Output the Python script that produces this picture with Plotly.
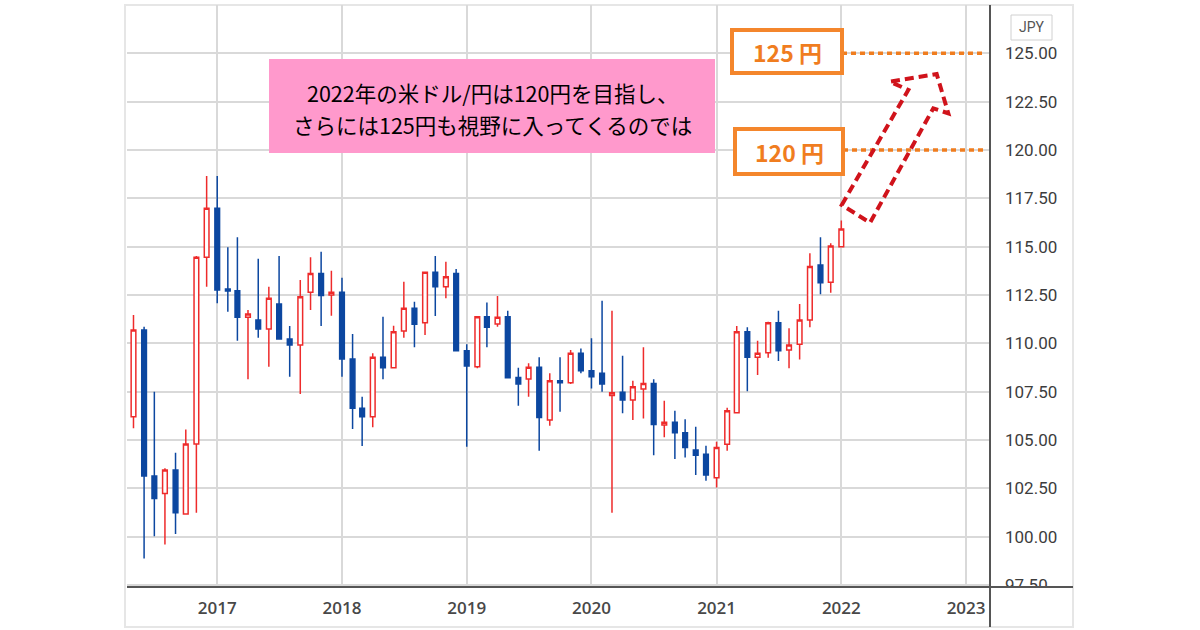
import pandas as pd
import plotly.graph_objects as go

# USD/JPY monthly candles, Apr 2016 - Jan 2022
months = pd.date_range("2016-04-01", "2022-01-01", freq="MS")

opens = [112.40, 106.21, 110.69, 103.14, 102.24, 103.45, 101.17, 104.79, 114.45, 116.99,
         112.81, 112.72, 111.35, 111.21, 110.74, 112.04, 110.22, 109.91, 112.64, 113.62, 112.50,
         112.64, 109.19, 106.64, 106.21, 109.28, 108.74, 110.64, 111.81, 111.07, 113.68, 112.93, 113.62,
         109.62, 108.79, 111.38, 111.00, 111.38, 108.24, 108.16, 108.76, 106.04, 108.07, 107.96, 109.49,
         108.59, 108.45, 107.31, 107.47, 107.07, 107.64, 107.93, 105.78, 105.92, 105.38, 104.48, 104.26,
         103.05, 104.78, 106.41, 110.60, 109.28, 109.52, 111.07, 109.66, 109.95, 111.21, 114.05, 113.16,
         115.00]
highs = [112.59, 111.47, 110.86, 107.50, 103.54, 104.34, 105.55, 114.52, 118.66, 118.66,
         114.97, 115.49, 111.73, 114.38, 112.93, 114.52, 110.90, 113.28, 114.45, 114.74, 113.76,
         113.40, 110.48, 107.24, 109.49, 111.38, 110.91, 113.19, 112.15, 113.68, 114.52, 114.22, 113.85,
         109.95, 111.41, 112.12, 112.45, 111.69, 108.74, 108.97, 109.28, 108.45, 109.28, 109.66, 109.74,
         110.26, 112.21, 111.69, 109.36, 108.07, 109.80, 108.14, 107.03, 106.52, 106.07, 105.69, 104.70,
         104.91, 106.67, 110.90, 110.83, 110.14, 111.12, 111.69, 110.78, 112.04, 114.66, 115.49, 115.18,
         116.35]
lows = [106.24, 105.61, 98.88, 100.03, 99.60, 100.14, 101.17, 101.24, 112.93, 112.07,
        111.64, 110.14, 108.14, 110.29, 108.79, 110.22, 108.27, 107.38, 111.73, 110.90, 111.43,
        108.27, 105.57, 104.69, 105.66, 108.14, 108.74, 110.29, 109.80, 110.43, 111.41, 112.33, 109.62,
        104.65, 108.71, 109.80, 110.86, 108.22, 106.77, 107.24, 104.45, 105.74, 106.46, 107.90, 108.45,
        107.67, 107.50, 101.24, 106.38, 106.04, 106.12, 104.22, 105.14, 104.02, 104.10, 103.19, 102.89,
        102.55, 104.45, 106.41, 107.53, 108.36, 109.26, 109.09, 108.71, 109.17, 110.83, 112.54, 112.62,
        115.00]
closes = [106.30, 110.69, 103.14, 101.98, 103.45, 101.24, 104.79, 114.45, 116.99, 112.76,
          112.71, 111.35, 111.52, 110.74, 112.33, 110.22, 109.91, 112.41, 113.62, 112.47, 112.64,
          109.19, 106.64, 106.21, 109.28, 108.74, 110.60, 111.81, 110.99, 113.68, 112.93, 113.45, 109.62,
          108.83, 111.38, 110.83, 111.35, 108.22, 107.90, 108.76, 106.17, 108.07, 107.96, 109.49, 108.59,
          108.27, 107.90, 107.45, 107.07, 107.76, 107.93, 105.81, 105.92, 105.38, 104.62, 104.22, 103.19,
          104.62, 106.52, 110.60, 109.28, 109.49, 111.07, 109.62, 109.91, 111.21, 113.97, 113.14, 115.04,
          115.92]

# annotation text
note_lines = ["2022年の米ドル/円は120円を目指し、", "さらには125円も視野に入ってくるのでは"]
targets = [125, 120]
target_labels = ["125 円", "120 円"]

# plot area in pixels (page is 1200x630)
W, H = 1200, 630
L, R, T, B = 127, 990, 5, 587


def px(x):
    return (x - L) / (R - L)


def py(y):
    return (B - y) / (B - T)


RED = "#ee2b2b"
BLUE = "#0c47a0"
ORANGE = "#f4862c"
GRID = "#d9d9d9"

fig = go.Figure(go.Candlestick(
    x=months, open=opens, high=highs, low=lows, close=closes,
    increasing=dict(line=dict(color=RED, width=1.5), fillcolor="white"),
    decreasing=dict(line=dict(color=BLUE, width=1.5), fillcolor=BLUE),
    whiskerwidth=0,
    showlegend=False,
))

shapes = []
# outer frame
shapes.append(dict(type="rect", xref="paper", yref="paper",
                   x0=px(125), x1=px(1073), y0=py(627), y1=py(5),
                   line=dict(color="#e6e6e6", width=2), layer="below"))
# hide lower half of the 97.50 label
shapes.append(dict(type="rect", xref="paper", yref="paper",
                   x0=px(992), x1=px(1071), y0=py(600), y1=py(588),
                   fillcolor="white", line=dict(width=0), layer="above"))
# axis lines
shapes.append(dict(type="line", xref="paper", yref="paper",
                   x0=px(127), x1=px(1073), y0=py(587), y1=py(587),
                   line=dict(color="#555555", width=2), layer="above"))
shapes.append(dict(type="line", xref="paper", yref="paper",
                   x0=px(990), x1=px(990), y0=py(5), y1=py(627),
                   line=dict(color="#555555", width=2), layer="above"))
# pink note box
shapes.append(dict(type="rect", xref="paper", yref="paper",
                   x0=px(269), x1=px(715), y0=py(153), y1=py(59),
                   fillcolor="#ff99cc", line=dict(width=0), layer="above"))
# target boxes + dotted lines
boxes = [(732, 842, 30, 73), (735, 843, 129, 174)]
for (bx0, bx1, by0, by1), lvl in zip(boxes, targets):
    shapes.append(dict(type="line", xref="paper", yref="y",
                       x0=px(bx1), x1=px(986), y0=lvl, y1=lvl,
                       line=dict(color="#f07d1f", width=3.5, dash="5px,4px"), layer="above"))
    shapes.append(dict(type="rect", xref="paper", yref="paper",
                       x0=px(bx0), x1=px(bx1), y0=py(by1), y1=py(by0),
                       fillcolor="white", line=dict(color=ORANGE, width=4), layer="above"))

# dashed hollow arrow
arrow_pts = [(841.7, 205), (908.3, 90), (890, 81.7), (936.7, 74),
             (948.3, 113.3), (933.3, 108.3), (870, 222.7)]
path = "M " + " L ".join(f"{px(x):.4f},{py(y):.4f}" for x, y in arrow_pts) + " Z"
shapes.append(dict(type="path", xref="paper", yref="paper", path=path,
                   line=dict(color="#d0131b", width=4, dash="9px,5px"), layer="above"))

# JPY badge
shapes.append(dict(type="rect", xref="paper", yref="paper",
                   x0=px(1011), x1=px(1052), y0=py(40), y1=py(15),
                   line=dict(color="#d0d0d0", width=1), fillcolor="white", layer="above"))

annotations = []
for i, line in enumerate(note_lines):
    annotations.append(dict(x=px(492), y=py(92 + 32 * i), xref="paper", yref="paper",
                            text=line, showarrow=False, xanchor="center", yanchor="middle",
                            font=dict(family="Noto Sans CJK JP", size=21.5, color="black")))
for (bx0, bx1, by0, by1), lab in zip(boxes, target_labels):
    annotations.append(dict(x=px((bx0 + bx1) / 2), y=py((by0 + by1) / 2), xref="paper", yref="paper",
                            text=f"<b>{lab}</b>", showarrow=False, xanchor="center", yanchor="middle",
                            font=dict(family="Noto Sans CJK JP", size=23, color="#f07d1f")))
annotations.append(dict(x=px(1031.5), y=py(27.5), xref="paper", yref="paper",
                        text="JPY", showarrow=False, xanchor="center", yanchor="middle",
                        font=dict(family="Roboto", size=14, color="#555555")))

fig.update_layout(
    width=W, height=H,
    margin=dict(l=L, r=W - R, t=T, b=H - B, pad=0),
    paper_bgcolor="white", plot_bgcolor="white",
    shapes=shapes, annotations=annotations,
    xaxis=dict(type="date", range=["2016-04-12", "2023-03-12"],
               tick0="2017-01-01", dtick="M12", tickformat="%Y",
               showgrid=True, gridcolor=GRID, gridwidth=1.5,
               showline=False, zeroline=False, ticks="",
               ticklabelstandoff=9,
               tickfont=dict(family="Open Sans", size=17, color="#484848", weight=600),
               rangeslider=dict(visible=False)),
    yaxis=dict(side="right", range=[97.40, 127.50],
               tick0=97.5, dtick=2.5, tickformat=".2f",
               showgrid=True, gridcolor=GRID, gridwidth=1.5,
               showline=False, zeroline=False, ticks="",
               ticklabelstandoff=14,
               tickfont=dict(family="Roboto", size=17, color="#3d3d3d")),
)

# drop the default page margin so the figure sits at the window's top-left
fig.write_html("out.html", config={"displayModeBar": False},
               post_script="document.body.style.margin='0';")
